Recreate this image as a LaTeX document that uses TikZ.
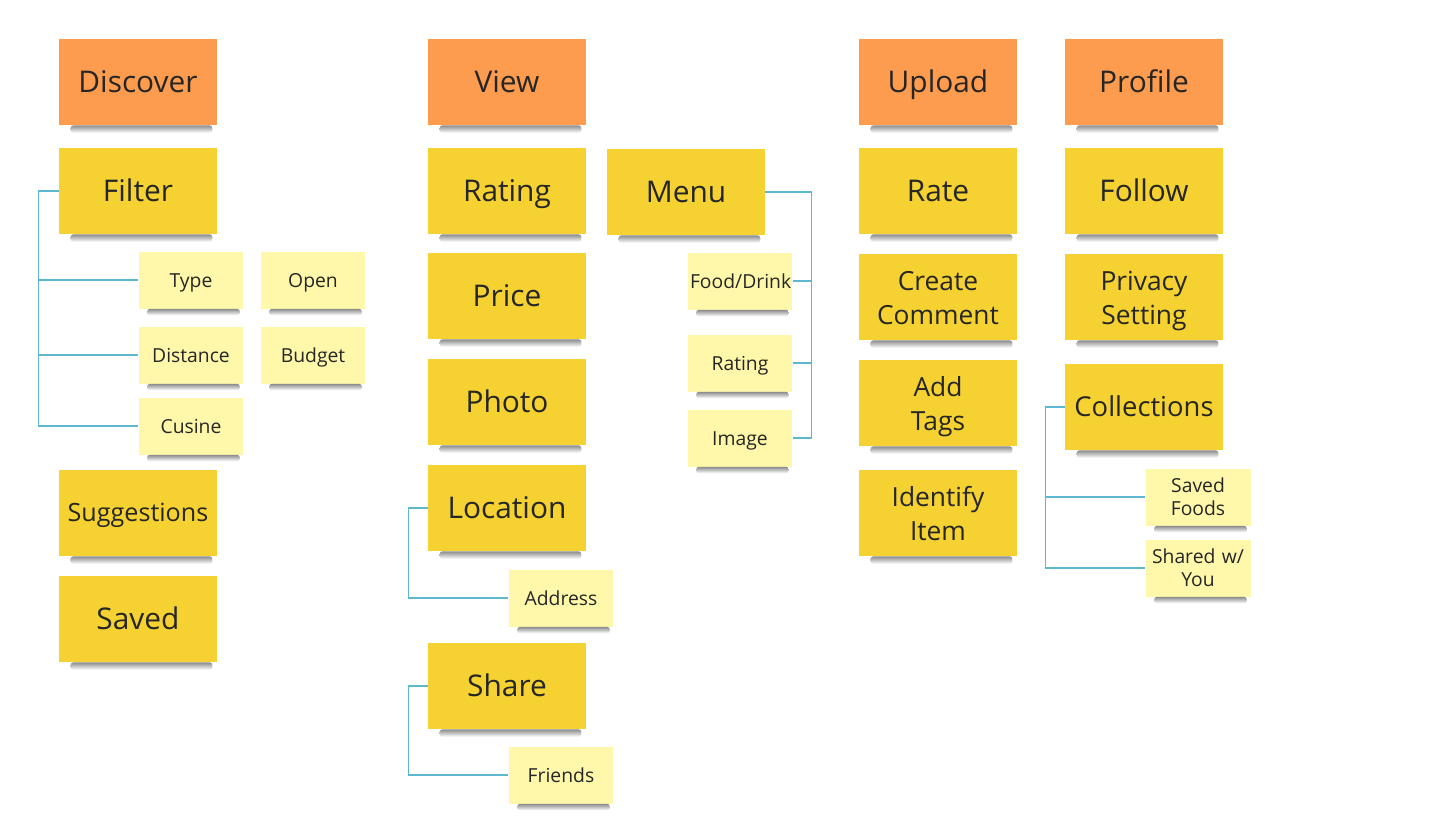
\documentclass[tikz,border=0pt]{standalone}
\usepackage{fontspec}
\setmainfont{Open Sans}

\definecolor{headorange}{HTML}{FD9C4E}
\definecolor{noteyellow}{HTML}{F5D231}
\definecolor{subyellow}{HTML}{FFF8AA}
\definecolor{linkblue}{HTML}{5DB7CE}
\definecolor{notetext}{HTML}{262626}

\newcommand{\notestrut}{\rule[-0.2\baselineskip]{0pt}{\baselineskip}}

\begin{document}
\begin{tikzpicture}[
    x=0.02cm, y=-0.02cm,
    note/.style = {minimum width=3.16cm, minimum height=1.72cm, text width=3cm, align=center, inner sep=0pt, text=notetext, font=\fontsize{17}{20}\selectfont, execute at begin node=\notestrut, execute at end node=\notestrut},
    headnote/.style = {note, fill=headorange},
    itemnote/.style = {note, fill=noteyellow},
    twoline/.style = {font=\fontsize{15}{19.5}\selectfont},
    subnote/.style = {note, fill=subyellow, minimum width=2.1cm, minimum height=1.14cm, text width=2cm, font=\fontsize{11}{13.5}\selectfont},
    notebar/.style = {top color=black!45, bottom color=white, rounded corners=1.5pt},
    link/.style = {draw=linkblue, line width=0.6pt}
  ]
  \useasboundingbox[fill=white] (0,0) rectangle (1440,836);

  % Discover column
  \node[headnote] (Discover) at (138,82) {Discover};
  \node[itemnote] (Filter) at (138,191) {Filter};
  \node[subnote] (Type) at (191,280) {Type};
  \node[subnote] (Open) at (313,280) {Open};
  \node[subnote] (Distance) at (191,355) {Distance};
  \node[subnote] (Budget) at (313,355) {Budget};
  \node[subnote] (Cusine) at (191,426) {Cusine};
  \node[itemnote, font=\fontsize{14.3}{17}\selectfont] (Suggestions) at (138,513) {Suggestions};
  \node[itemnote] (Saved) at (138,619) {Saved};

  % View column
  \node[headnote] (View) at (507,82) {View};
  \node[itemnote] (Rating) at (507,191) {Rating};
  \node[itemnote] (Price) at (507,296) {Price};
  \node[itemnote] (Photo) at (507,402) {Photo};
  \node[itemnote] (Location) at (507,508) {Location};
  \node[subnote] (Address) at (561,598) {Address};
  \node[itemnote] (Share) at (507,686) {Share};
  \node[subnote] (Friends) at (561,775) {Friends};

  % Menu
  \node[itemnote] (Menu) at (686,192) {Menu};
  \node[subnote] (FoodDrink) at (740,281) {Food/Drink};
  \node[subnote] (MenuRating) at (740,363) {Rating};
  \node[subnote] (Image) at (740,438) {Image};

  % Upload column
  \node[headnote] (Upload) at (938,82) {Upload};
  \node[itemnote] (Rate) at (938,191) {Rate};
  \node[itemnote, twoline] (Comment) at (938,297) {Create\\Comment};
  \node[itemnote, twoline] (Tags) at (938,403) {Add\\Tags};
  \node[itemnote, twoline] (Identify) at (938,513) {Identify\\Item};

  % Profile column
  \node[headnote] (Profile) at (1144,82) {Profile};
  \node[itemnote] (Follow) at (1144,191) {Follow};
  \node[itemnote, twoline] (Privacy) at (1144,297) {Privacy\\Setting};
  \node[itemnote, font=\fontsize{15.6}{18}\selectfont] (Collections) at (1144,407) {Collections};
  \node[subnote] (SavedFoods) at (1198,497) {Saved\\Foods};
  \node[subnote] (SharedYou) at (1198,568) {Shared w/\\You};

  % shadows under the notes
  \foreach \n in {Discover, Filter, Suggestions, Saved, View, Rating, Price, Photo, Location, Share, Menu, Upload, Rate, Comment, Tags, Identify, Profile, Follow, Privacy, Collections}
    \shade[notebar] ([xshift=0.24cm]\n.south west) rectangle ([xshift=-0.1cm, yshift=-0.15cm]\n.south east);
  \foreach \n in {Type, Open, Distance, Budget, Cusine, Address, Friends, FoodDrink, MenuRating, Image, SavedFoods, SharedYou}
    \shade[notebar] ([xshift=0.18cm]\n.south west) rectangle ([xshift=-0.08cm, yshift=-0.13cm]\n.south east);

  % Links
  \draw[link] (Filter.west) -- ++(-20,0) coordinate (fbus) |- (Cusine.west);
  \draw[link] (fbus |- Type.west) -- (Type.west);
  \draw[link] (fbus |- Distance.west) -- (Distance.west);

  \draw[link] (Location.west) -- ++(-19,0) |- (Address.west);
  \draw[link] (Share.west) -- ++(-19,0) |- (Friends.west);

  \draw[link] (Menu.east) -- ++(46,0) coordinate (mbus) |- (Image.east);
  \draw[link] (mbus |- FoodDrink.east) -- (FoodDrink.east);
  \draw[link] (mbus |- MenuRating.east) -- (MenuRating.east);

  \draw[link] (Collections.west) -- ++(-19,0) coordinate (cbus) |- (SharedYou.west);
  \draw[link] (cbus |- SavedFoods.west) -- (SavedFoods.west);
\end{tikzpicture}
\end{document}
